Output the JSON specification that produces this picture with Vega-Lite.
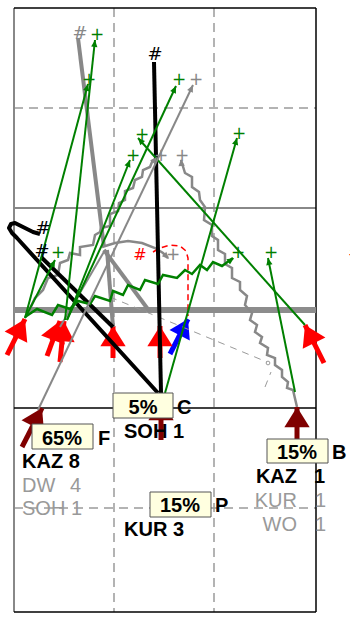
{
  "$schema": "https://vega.github.io/schema/vega-lite/v6.json",
  "width": 350,
  "height": 619,
  "autosize": "none",
  "padding": 0,
  "background": "white",
  "config": {"view": {"stroke": null}},
  "resolve": {"scale": {"color": "independent"}},
  "datasets": {
    "rules": [
      {"x":114,"y":8,"x2":114,"y2":612,"k":"dash"},
      {"x":214,"y":8,"x2":214,"y2":612,"k":"dash"},
      {"x":14,"y":108,"x2":316,"y2":108,"k":"dash"},
      {"x":14,"y":508,"x2":316,"y2":508,"k":"dash"},
      {"x":14,"y":8,"x2":14,"y2":612,"k":"frameG"},
      {"x":14,"y":208,"x2":316,"y2":208,"k":"frameG"},
      {"x":14,"y":8,"x2":316,"y2":8,"k":"frameB"},
      {"x":316,"y":8,"x2":316,"y2":612,"k":"frameB"},
      {"x":14,"y":612,"x2":316,"y2":612,"k":"frameB"},
      {"x":14,"y":408,"x2":316,"y2":408,"k":"frameB"},
      {"x":14,"y":310,"x2":316,"y2":310,"k":"thickG"},
      {"x":110,"y":297,"x2":267,"y2":362,"k":"grayD"},
      {"x":265,"y":387,"x2":271,"y2":372,"k":"grayD"},
      {"x":78,"y":38,"x2":104,"y2":247,"k":"grayT"},
      {"x":104,"y":250,"x2":150,"y2":312,"k":"grayT"},
      {"x":107,"y":250,"x2":113,"y2":327,"k":"grayT"},
      {"x":60,"y":327,"x2":105,"y2":250,"k":"grayM"},
      {"x":161,"y":393,"x2":154,"y2":62,"k":"blackT"},
      {"x":41,"y":257,"x2":113,"y2":327,"k":"blackT"}
    ],
    "paths": [
      {"id":"A","i":0,"x":27,"y":315},{"id":"A","i":1,"x":35,"y":298},{"id":"A","i":2,"x":43,"y":290},{"id":"A","i":3,"x":48,"y":278},{"id":"A","i":4,"x":58,"y":275},{"id":"A","i":5,"x":60,"y":263},{"id":"A","i":6,"x":68,"y":260},{"id":"A","i":7,"x":70,"y":253},{"id":"A","i":8,"x":80,"y":255},{"id":"A","i":9,"x":80,"y":247},{"id":"A","i":10,"x":93,"y":245},{"id":"A","i":11,"x":95,"y":235},{"id":"A","i":12,"x":100,"y":232},{"id":"A","i":13,"x":101,"y":228},{"id":"A","i":14,"x":110,"y":226},{"id":"A","i":15,"x":110,"y":214},{"id":"A","i":16,"x":118,"y":211},{"id":"A","i":17,"x":119,"y":203},{"id":"A","i":18,"x":125,"y":200},{"id":"A","i":19,"x":125,"y":191},{"id":"A","i":20,"x":133,"y":188},{"id":"A","i":21,"x":135,"y":180},{"id":"A","i":22,"x":142,"y":177},{"id":"A","i":23,"x":143,"y":170},{"id":"A","i":24,"x":150,"y":167},{"id":"A","i":25,"x":152,"y":162},{"id":"A","i":26,"x":156,"y":158},
      {"id":"B","i":0,"x":297,"y":407},{"id":"B","i":1,"x":293,"y":390},{"id":"B","i":2,"x":287,"y":388},{"id":"B","i":3,"x":288,"y":382},{"id":"B","i":4,"x":282,"y":377},{"id":"B","i":5,"x":282,"y":370},{"id":"B","i":6,"x":275,"y":365},{"id":"B","i":7,"x":275,"y":358},{"id":"B","i":8,"x":267,"y":355},{"id":"B","i":9,"x":268,"y":348},{"id":"B","i":10,"x":260,"y":343},{"id":"B","i":11,"x":262,"y":337},{"id":"B","i":12,"x":255,"y":332},{"id":"B","i":13,"x":257,"y":325},{"id":"B","i":14,"x":250,"y":320},{"id":"B","i":15,"x":252,"y":313},{"id":"B","i":16,"x":245,"y":305},{"id":"B","i":17,"x":247,"y":296},{"id":"B","i":18,"x":240,"y":290},{"id":"B","i":19,"x":240,"y":282},{"id":"B","i":20,"x":232,"y":278},{"id":"B","i":21,"x":232,"y":268},{"id":"B","i":22,"x":225,"y":264},{"id":"B","i":23,"x":225,"y":254},{"id":"B","i":24,"x":218,"y":250},{"id":"B","i":25,"x":218,"y":240},{"id":"B","i":26,"x":212,"y":236},{"id":"B","i":27,"x":212,"y":225},{"id":"B","i":28,"x":204,"y":220},{"id":"B","i":29,"x":205,"y":207},{"id":"B","i":30,"x":200,"y":200},{"id":"B","i":31,"x":199,"y":192},{"id":"B","i":32,"x":192,"y":187},{"id":"B","i":33,"x":192,"y":177},{"id":"B","i":34,"x":185,"y":173},{"id":"B","i":35,"x":181,"y":160},
      {"id":"C","i":0,"x":25,"y":317},{"id":"C","i":1,"x":37,"y":309},{"id":"C","i":2,"x":52,"y":315},{"id":"C","i":3,"x":58,"y":305},{"id":"C","i":4,"x":70,"y":309},{"id":"C","i":5,"x":78,"y":301},{"id":"C","i":6,"x":90,"y":304},{"id":"C","i":7,"x":95,"y":296},{"id":"C","i":8,"x":110,"y":301},{"id":"C","i":9,"x":113,"y":291},{"id":"C","i":10,"x":123,"y":295},{"id":"C","i":11,"x":128,"y":285},{"id":"C","i":12,"x":140,"y":290},{"id":"C","i":13,"x":145,"y":280},{"id":"C","i":14,"x":158,"y":284},{"id":"C","i":15,"x":163,"y":275},{"id":"C","i":16,"x":177,"y":278},{"id":"C","i":17,"x":185,"y":270},{"id":"C","i":18,"x":192,"y":274},{"id":"C","i":19,"x":200,"y":265},{"id":"C","i":20,"x":207,"y":270},{"id":"C","i":21,"x":213,"y":262},{"id":"C","i":22,"x":222,"y":266},{"id":"C","i":23,"x":233,"y":258},
      {"id":"D","i":0,"x":102,"y":247},{"id":"D","i":1,"x":115,"y":243},{"id":"D","i":2,"x":128,"y":241},{"id":"D","i":3,"x":142,"y":243},{"id":"D","i":4,"x":155,"y":248},{"id":"D","i":5,"x":163,"y":253},{"id":"D","i":6,"x":168,"y":258},
      {"id":"E","i":0,"x":153,"y":252},{"id":"E","i":1,"x":160,"y":248},{"id":"E","i":2,"x":170,"y":245},{"id":"E","i":3,"x":180,"y":246},{"id":"E","i":4,"x":186,"y":251},{"id":"E","i":5,"x":188,"y":258},{"id":"E","i":6,"x":188,"y":270},{"id":"E","i":7,"x":188,"y":316},
      {"id":"I","i":0,"x":40,"y":234},{"id":"I","i":1,"x":33,"y":232},{"id":"I","i":2,"x":23,"y":227},{"id":"I","i":3,"x":15,"y":223},{"id":"I","i":4,"x":11,"y":224},{"id":"I","i":5,"x":9,"y":228},{"id":"I","i":6,"x":12,"y":233},{"id":"I","i":7,"x":17,"y":238},{"id":"I","i":8,"x":158,"y":393}
    ],
    "arrows": [
      {"x":7,"y":355,"x2":25,"y2":319,"k":"red"},
      {"x":47,"y":356,"x2":60,"y2":321,"k":"red"},
      {"x":60,"y":362,"x2":64,"y2":321,"k":"red"},
      {"x":113,"y":358,"x2":113,"y2":326,"k":"red"},
      {"x":160,"y":358,"x2":160,"y2":326,"k":"red"},
      {"x":324,"y":363,"x2":305,"y2":325,"k":"red"},
      {"x":170,"y":354,"x2":188,"y2":319,"k":"blue"},
      {"x":22,"y":447,"x2":42,"y2":408,"k":"dred"},
      {"x":161,"y":440,"x2":161,"y2":400,"k":"dred"},
      {"x":297,"y":440,"x2":297,"y2":407,"k":"dred"},
      {"x":25,"y":318,"x2":88,"y2":84,"k":"green"},
      {"x":65,"y":320,"x2":95,"y2":40,"k":"green"},
      {"x":67,"y":320,"x2":130,"y2":160,"k":"green"},
      {"x":67,"y":320,"x2":176,"y2":86,"k":"green"},
      {"x":305,"y":325,"x2":138,"y2":138,"k":"green"},
      {"x":165,"y":393,"x2":237,"y2":138,"k":"green"},
      {"x":295,"y":392,"x2":268,"y2":258,"k":"green"},
      {"x":25,"y":318,"x2":55,"y2":260,"k":"green"},
      {"x":38,"y":410,"x2":193,"y2":85,"k":"gray"},
      {"x":222,"y":266,"x2":234,"y2":258,"k":"greenh"},
      {"x":152,"y":163,"x2":157,"y2":157,"k":"grayh"},
      {"x":182,"y":170,"x2":181,"y2":159,"k":"grayh"},
      {"x":163,"y":253,"x2":169,"y2":259,"k":"grayh"}
    ],
    "boxes": [
      {"x":113,"y":393,"x2":173,"y2":418},
      {"x":32,"y":424,"x2":93,"y2":449},
      {"x":267,"y":439,"x2":328,"y2":463},
      {"x":150,"y":492,"x2":211,"y2":517}
    ],
    "dots": [{"x":268,"y":363}],
    "labels": [
      {"x":177,"y":414,"t":"C","k":"b"},
      {"x":124,"y":438,"t":"SOH 1","k":"b"},
      {"x":22,"y":468,"t":"KAZ 8","k":"b"},
      {"x":98,"y":445,"t":"F","k":"b"},
      {"x":332,"y":459,"t":"B","k":"b"},
      {"x":314,"y":483,"t":"1","k":"b"},
      {"x":215,"y":512,"t":"P","k":"b"},
      {"x":124,"y":536,"t":"KUR 3","k":"b"},
      {"x":297,"y":483,"t":"KAZ","k":"br"},
      {"x":143,"y":414,"t":"5%","k":"bc"},
      {"x":62,"y":445,"t":"65%","k":"bc"},
      {"x":297,"y":459,"t":"15%","k":"bc"},
      {"x":180,"y":512,"t":"15%","k":"bc"},
      {"x":22,"y":492,"t":"DW","k":"g"},
      {"x":70,"y":492,"t":"4","k":"g"},
      {"x":22,"y":515,"t":"SOH","k":"g"},
      {"x":71,"y":515,"t":"1","k":"g"},
      {"x":315,"y":507,"t":"1","k":"g"},
      {"x":315,"y":531,"t":"1","k":"g"},
      {"x":297,"y":507,"t":"KUR","k":"gr"},
      {"x":297,"y":531,"t":"WO","k":"gr"},
      {"x":97,"y":35,"t":"+","k":"plus"},
      {"x":89,"y":80,"t":"+","k":"plus"},
      {"x":179,"y":80,"t":"+","k":"plus"},
      {"x":142,"y":135,"t":"+","k":"plus"},
      {"x":133,"y":156,"t":"+","k":"plus"},
      {"x":239,"y":134,"t":"+","k":"plus"},
      {"x":58,"y":253,"t":"+","k":"plus"},
      {"x":238,"y":253,"t":"+","k":"plus"},
      {"x":271,"y":253,"t":"+","k":"plus"},
      {"x":196,"y":80,"t":"+","k":"pg"},
      {"x":182,"y":156,"t":"+","k":"pg"},
      {"x":161,"y":156,"t":"+","k":"pg"},
      {"x":173,"y":255,"t":"+","k":"pg"},
      {"x":155,"y":55,"t":"#","k":"hb"},
      {"x":43,"y":229,"t":"#","k":"hb"},
      {"x":42,"y":252,"t":"#","k":"hb"},
      {"x":80,"y":34,"t":"#","k":"hg"},
      {"x":140,"y":255,"t":"#","k":"hr"},
      {"x":355,"y":253,"t":"#","k":"hr"}
    ]
  },
  "encoding": {
    "x": {"field": "x", "type": "quantitative", "scale": {"domain": [0, 350], "nice": false, "zero": false}, "axis": null},
    "y": {"field": "y", "type": "quantitative", "scale": {"domain": [0, 619], "nice": false, "zero": false, "reverse": true}, "axis": null}
  },
  "layer": [
    {"data": {"name": "rules"}, "transform": [{"filter": "datum.k == 'dash'"}],
     "mark": {"type": "rule", "color": "#9a9a9a", "strokeWidth": 1.5, "strokeDash": [9, 6]},
     "encoding": {"x2": {"field": "x2"}, "y2": {"field": "y2"}}},
    {"data": {"name": "rules"}, "transform": [{"filter": "datum.k == 'frameG'"}],
     "mark": {"type": "rule", "color": "#888888", "strokeWidth": 2},
     "encoding": {"x2": {"field": "x2"}, "y2": {"field": "y2"}}},
    {"data": {"name": "rules"}, "transform": [{"filter": "datum.k == 'frameB'"}],
     "mark": {"type": "rule", "color": "#000000", "strokeWidth": 1.5},
     "encoding": {"x2": {"field": "x2"}, "y2": {"field": "y2"}}},
    {"data": {"name": "rules"}, "transform": [{"filter": "datum.k == 'thickG'"}],
     "mark": {"type": "rule", "color": "#8c8c8c", "strokeWidth": 6},
     "encoding": {"x2": {"field": "x2"}, "y2": {"field": "y2"}}},
    {"data": {"name": "arrows"}, "transform": [{"filter": "indexof(['red','blue','dred'], datum.k) >= 0"}],
     "mark": {"type": "rule", "strokeWidth": 5},
     "encoding": {"x2": {"field": "x2"}, "y2": {"field": "y2"},
       "color": {"field": "k", "type": "nominal", "scale": {"domain": ["red", "blue", "dred"], "range": ["#ff0000", "#0000ff", "#800000"]}, "legend": null}}},
    {"data": {"name": "arrows"}, "transform": [{"filter": "indexof(['red','dred'], datum.k) >= 0"}, {"calculate": "atan2(datum.x2 - datum.x, datum.y - datum.y2) * 180 / PI", "as": "ang"}],
     "mark": {"type": "point", "shape": "M0,0L1,1.6L-1,1.6Z", "filled": true, "opacity": 1, "size": 640, "strokeWidth": 0},
     "encoding": {"x": {"field": "x2", "type": "quantitative"}, "y": {"field": "y2", "type": "quantitative"},
       "angle": {"field": "ang", "type": "quantitative", "scale": null},
       "color": {"field": "k", "type": "nominal", "scale": {"domain": ["red", "dred"], "range": ["#ff0000", "#800000"]}, "legend": null}}},
    {"data": {"name": "arrows"}, "transform": [{"filter": "datum.k == 'blue'"}, {"calculate": "atan2(datum.x2 - datum.x, datum.y - datum.y2) * 180 / PI", "as": "ang"}],
     "mark": {"type": "point", "shape": "M0,0L1,1.6L-1,1.6Z", "filled": true, "opacity": 1, "size": 520, "strokeWidth": 0, "color": "#0000ff"},
     "encoding": {"x": {"field": "x2", "type": "quantitative"}, "y": {"field": "y2", "type": "quantitative"},
       "angle": {"field": "ang", "type": "quantitative", "scale": null}}},
    {"data": {"name": "rules"}, "transform": [{"filter": "datum.k == 'grayD'"}],
     "mark": {"type": "rule", "color": "#9a9a9a", "strokeWidth": 1, "strokeDash": [7, 6]},
     "encoding": {"x2": {"field": "x2"}, "y2": {"field": "y2"}}},
    {"data": {"name": "dots"},
     "mark": {"type": "point", "shape": "circle", "filled": false, "size": 14, "color": "#9a9a9a", "strokeWidth": 1, "opacity": 1}},
    {"data": {"name": "paths"}, "transform": [{"filter": "indexof(['A','B','D'], datum.id) >= 0"}],
     "mark": {"type": "line", "color": "#888888", "strokeWidth": 2.5, "strokeJoin": "miter"},
     "encoding": {"detail": {"field": "id"}, "order": {"field": "i", "type": "quantitative"}}},
    {"data": {"name": "rules"}, "transform": [{"filter": "datum.k == 'grayT'"}],
     "mark": {"type": "rule", "color": "#888888", "strokeWidth": 4},
     "encoding": {"x2": {"field": "x2"}, "y2": {"field": "y2"}}},
    {"data": {"name": "rules"}, "transform": [{"filter": "datum.k == 'grayM'"}],
     "mark": {"type": "rule", "color": "#888888", "strokeWidth": 2},
     "encoding": {"x2": {"field": "x2"}, "y2": {"field": "y2"}}},
    {"data": {"name": "paths"}, "transform": [{"filter": "datum.id == 'E'"}],
     "mark": {"type": "line", "color": "#ff0000", "strokeWidth": 1.5, "strokeDash": [6, 4]},
     "encoding": {"detail": {"field": "id"}, "order": {"field": "i", "type": "quantitative"}}},
    {"data": {"name": "paths"}, "transform": [{"filter": "datum.id == 'I'"}],
     "mark": {"type": "line", "color": "#000000", "strokeWidth": 4, "strokeJoin": "round"},
     "encoding": {"detail": {"field": "id"}, "order": {"field": "i", "type": "quantitative"}}},
    {"data": {"name": "rules"}, "transform": [{"filter": "datum.k == 'blackT'"}],
     "mark": {"type": "rule", "color": "#000000", "strokeWidth": 4},
     "encoding": {"x2": {"field": "x2"}, "y2": {"field": "y2"}}},
    {"data": {"name": "paths"}, "transform": [{"filter": "datum.id == 'C'"}],
     "mark": {"type": "line", "color": "#008000", "strokeWidth": 2.5, "strokeJoin": "miter"},
     "encoding": {"detail": {"field": "id"}, "order": {"field": "i", "type": "quantitative"}}},
    {"data": {"name": "arrows"}, "transform": [{"filter": "indexof(['green','gray'], datum.k) >= 0"}],
     "mark": {"type": "rule", "strokeWidth": 2},
     "encoding": {"x2": {"field": "x2"}, "y2": {"field": "y2"},
       "color": {"field": "k", "type": "nominal", "scale": {"domain": ["green", "gray"], "range": ["#008000", "#888888"]}, "legend": null}}},
    {"data": {"name": "arrows"}, "transform": [{"filter": "indexof(['green','gray','greenh','grayh'], datum.k) >= 0"}, {"calculate": "atan2(datum.x2 - datum.x, datum.y - datum.y2) * 180 / PI", "as": "ang"}],
     "mark": {"type": "point", "shape": "M0,0L1,2.2L-1,2.2Z", "filled": true, "opacity": 1, "size": 40, "strokeWidth": 0},
     "encoding": {"x": {"field": "x2", "type": "quantitative"}, "y": {"field": "y2", "type": "quantitative"},
       "angle": {"field": "ang", "type": "quantitative", "scale": null},
       "color": {"field": "k", "type": "nominal", "scale": {"domain": ["green", "gray", "greenh", "grayh"], "range": ["#008000", "#888888", "#008000", "#888888"]}, "legend": null}}},
    {"data": {"name": "boxes"},
     "mark": {"type": "rect", "fill": "#ffffe0", "stroke": "#555555", "strokeWidth": 1},
     "encoding": {"x2": {"field": "x2"}, "y2": {"field": "y2"}}},
    {"data": {"name": "labels"}, "transform": [{"filter": "datum.k == 'b'"}],
     "mark": {"type": "text", "font": "Liberation Sans", "fontSize": 20, "fontWeight": "bold", "align": "left", "baseline": "alphabetic", "color": "#000000"},
     "encoding": {"text": {"field": "t"}}},
    {"data": {"name": "labels"}, "transform": [{"filter": "datum.k == 'br'"}],
     "mark": {"type": "text", "font": "Liberation Sans", "fontSize": 20, "fontWeight": "bold", "align": "right", "baseline": "alphabetic", "color": "#000000"},
     "encoding": {"text": {"field": "t"}}},
    {"data": {"name": "labels"}, "transform": [{"filter": "datum.k == 'bc'"}],
     "mark": {"type": "text", "font": "Liberation Sans", "fontSize": 20, "fontWeight": "bold", "align": "center", "baseline": "alphabetic", "color": "#000000"},
     "encoding": {"text": {"field": "t"}}},
    {"data": {"name": "labels"}, "transform": [{"filter": "datum.k == 'g'"}],
     "mark": {"type": "text", "font": "Liberation Sans", "fontSize": 20, "align": "left", "baseline": "alphabetic", "color": "#999999"},
     "encoding": {"text": {"field": "t"}}},
    {"data": {"name": "labels"}, "transform": [{"filter": "datum.k == 'gr'"}],
     "mark": {"type": "text", "font": "Liberation Sans", "fontSize": 20, "align": "right", "baseline": "alphabetic", "color": "#999999"},
     "encoding": {"text": {"field": "t"}}},
    {"data": {"name": "labels"}, "transform": [{"filter": "datum.k == 'plus'"}],
     "mark": {"type": "text", "font": "DejaVu Sans", "fontSize": 17, "align": "center", "baseline": "middle", "color": "#008000"},
     "encoding": {"text": {"field": "t"}}},
    {"data": {"name": "labels"}, "transform": [{"filter": "datum.k == 'pg'"}],
     "mark": {"type": "text", "font": "DejaVu Sans", "fontSize": 17, "align": "center", "baseline": "middle", "color": "#888888"},
     "encoding": {"text": {"field": "t"}}},
    {"data": {"name": "labels"}, "transform": [{"filter": "datum.k == 'hb'"}],
     "mark": {"type": "text", "font": "DejaVu Sans", "fontSize": 18, "align": "center", "baseline": "middle", "color": "#000000"},
     "encoding": {"text": {"field": "t"}}},
    {"data": {"name": "labels"}, "transform": [{"filter": "datum.k == 'hg'"}],
     "mark": {"type": "text", "font": "DejaVu Sans", "fontSize": 18, "align": "center", "baseline": "middle", "color": "#888888"},
     "encoding": {"text": {"field": "t"}}},
    {"data": {"name": "labels"}, "transform": [{"filter": "datum.k == 'hr'"}],
     "mark": {"type": "text", "font": "DejaVu Sans", "fontSize": 16, "align": "center", "baseline": "middle", "color": "#ff0000"},
     "encoding": {"text": {"field": "t"}}}
  ]
}
